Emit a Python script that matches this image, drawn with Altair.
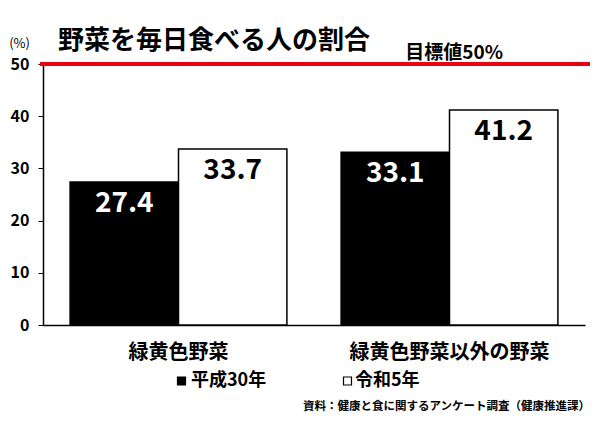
import pandas as pd
import altair as alt

# data
categories = ["緑黄色野菜", "緑黄色野菜以外の野菜"]
years = ["平成30年", "令和5年"]
h30_values = [27.4, 33.1]
r5_values = [33.7, 41.2]
y_ticks = [0, 10, 20, 30, 40, 50]
target = 50

title_text = "野菜を毎日食べる人の割合"
target_text = "目標値50%"
source_text = "資料：健康と食に関するアンケート調査（健康推進課）"

FONT = "Noto Sans CJK JP"

df = pd.DataFrame(
    {
        "category": categories * 2,
        "year": [years[0]] * 2 + [years[1]] * 2,
        "value": h30_values + r5_values,
    }
)

x_enc = alt.X(
    "category:N",
    sort=categories,
    scale=alt.Scale(paddingInner=0.2, paddingOuter=0.1),
    axis=alt.Axis(
        title=None,
        labelAngle=0,
        labelLimit=0,
        labelFont=FONT,
        labelFontSize=20,
        labelFontWeight="bold",
        labelColor="black",
        labelPadding=17,
        ticks=False,
        domainColor="black",
        domainWidth=1.5,
    ),
)
xoff_enc = alt.XOffset(
    "year:N", sort=years, scale=alt.Scale(paddingInner=0, paddingOuter=0)
)
y_scale = alt.Scale(domain=[0, 50], nice=False)

base = alt.Chart(df)

bars = base.mark_bar(stroke="black", strokeWidth=1.5).encode(
    x=x_enc,
    xOffset=xoff_enc,
    y=alt.Y(
        "value:Q",
        scale=y_scale,
        axis=alt.Axis(
            values=y_ticks,
            grid=False,
            title="(%)",
            titleAngle=0,
            titleX=-24,
            titleY=-21,
            titleAlign="center",
            titleBaseline="middle",
            titleFont=FONT,
            titleFontSize=13,
            titleFontWeight="normal",
            labelFont=FONT,
            labelFontSize=16,
            labelFontWeight="bold",
            labelColor="black",
            labelPadding=9,
            tickSize=5,
            tickColor="black",
            domainColor="black",
            domainWidth=1.5,
        ),
    ),
    color=alt.Color(
        "year:N", sort=years, scale=alt.Scale(domain=years, range=["black", "white"]),
        legend=None,
    ),
)

labels = base.mark_text(
    font=FONT, fontSize=28, fontWeight="bold", baseline="middle", dy=22
).encode(
    x=alt.X("category:N", sort=categories),
    xOffset=xoff_enc,
    y=alt.Y("value:Q", scale=y_scale),
    text=alt.Text("value:Q", format=".1f"),
    color=alt.Color(
        "year:N", sort=years, scale=alt.Scale(domain=years, range=["white", "black"]),
        legend=None,
    ),
)

# target line at 50%
target_df = pd.DataFrame({"target": [target], "label": [target_text]})
target_line = alt.Chart(target_df).mark_rule(color="#e60012", strokeWidth=4).encode(
    y=alt.Y("target:Q", scale=y_scale),
    x=alt.value(-3),
    x2=alt.value(547),
)
target_label = alt.Chart(target_df).mark_text(
    font=FONT, fontSize=19, fontWeight="bold", align="right", baseline="middle", dy=-11
).encode(
    y=alt.Y("target:Q", scale=y_scale),
    x=alt.value(460),
    text="label:N",
)

# title and source as free text
title = alt.Chart(pd.DataFrame({"t": [title_text]})).mark_text(
    font=FONT, fontSize=26, fontWeight="bold", align="left", baseline="middle"
).encode(x=alt.value(15), y=alt.value(-23), text="t:N")

source = alt.Chart(pd.DataFrame({"t": [source_text]})).mark_text(
    font=FONT, fontSize=11.5, fontWeight="bold", align="right", baseline="middle"
).encode(x=alt.value(547), y=alt.value(343), text="t:N")

# legend under the groups
legend_df = pd.DataFrame(
    {
        "year": years,
        "sx": [138.5, 304.5],
        "tx": [148, 312],
    }
)
legend_marks = alt.Chart(legend_df).mark_point(
    shape="square", filled=True, size=64, stroke="black", strokeWidth=1.2, opacity=1
).encode(
    x=alt.X("sx:Q", scale=None),
    y=alt.value(317),
    fill=alt.Fill(
        "year:N", sort=years, scale=alt.Scale(domain=years, range=["black", "white"]),
        legend=None,
    ),
)
legend_text = alt.Chart(legend_df).mark_text(
    font=FONT, fontSize=18, fontWeight="bold", align="left", baseline="middle"
).encode(
    x=alt.X("tx:Q", scale=None),
    y=alt.value(317),
    text="year:N",
)

chart = (
    alt.layer(
        bars, labels, target_line, target_label, title, source, legend_marks, legend_text
    )
    .resolve_scale(color="independent")
    .properties(
        width=542,
        height=261,
        padding={"left": 35, "top": 56, "right": 7, "bottom": 95},
        autosize=alt.AutoSizeParams(type="none"),
        background="white",
    )
    .configure_view(stroke=None)
)

chart.save("out.html", embed_options={"renderer": "svg", "actions": False})
